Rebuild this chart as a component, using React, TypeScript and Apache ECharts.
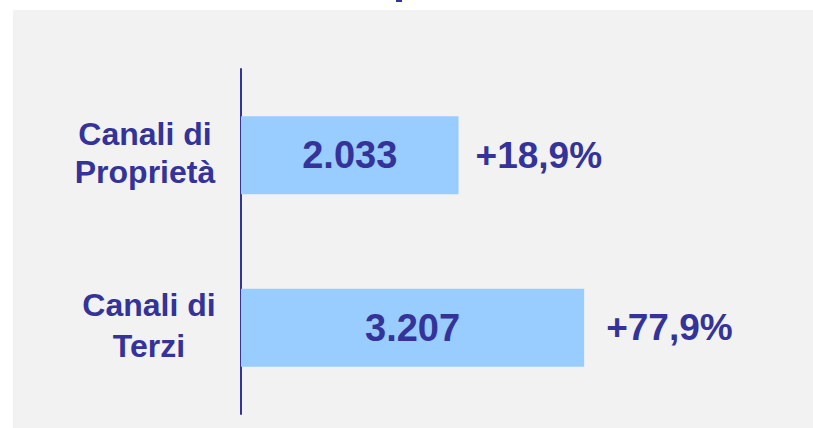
import React, { useEffect, useRef } from "react";
import * as echarts from "echarts";

const categories: string[] = ["Canali di\nProprietà", "Canali di\nTerzi"];
const values: number[] = [2033, 3207];
const growthLabels: string[] = ["+18,9%", "+77,9%"];
const growthDistances: number[] = [17, 22];

const NAVY = "#333399";
const BAR = "#99CCFF";
const PANEL = "#F2F2F2";
const FONT = '"Liberation Sans", Arial, sans-serif';

function formatIt(v: number): string {
  const s = Math.round(v).toString();
  return s.replace(/\B(?=(\d{3})+(?!\d))/g, ".");
}

export default function App() {
  const ref = useRef<HTMLDivElement>(null);
  useEffect(() => {
    if (!ref.current) return;
    const chart = echarts.init(ref.current, undefined, { renderer: "svg" });
    chart.setOption({
      animation: false,
      backgroundColor: "#FFFFFF",
      textStyle: { fontFamily: FONT },
      graphic: [
        {
          type: "rect",
          z: -10,
          silent: true,
          shape: { x: 13, y: 10, width: 800, height: 418 },
          style: { fill: PANEL },
        },
        {
          type: "rect",
          z: -10,
          silent: true,
          shape: { x: 396, y: 0, width: 6, height: 2 },
          style: { fill: NAVY },
        },
      ],
      grid: { left: 241, top: 69, width: 535, height: 345 },
      xAxis: {
        type: "value",
        min: 0,
        max: 5000,
        show: false,
      },
      yAxis: {
        type: "category",
        inverse: true,
        data: categories,
        axisLine: { show: true, lineStyle: { color: NAVY, width: 2 } },
        axisTick: { show: false },
        splitLine: { show: false },
        axisLabel: {
          margin: 96,
          align: "center",
          verticalAlign: "middle",
          fontSize: 32,
          fontWeight: "bold",
          fontFamily: FONT,
          color: NAVY,
          formatter: (value: string, idx: number) =>
            idx === 1 ? `{t|${value}}` : `{p|${value}}`,
          rich: {
            p: {
              fontSize: 32,
              fontWeight: "bold",
              fontFamily: FONT,
              color: NAVY,
              lineHeight: 38,
              padding: [0, 0, 5, 0],
            },
            t: {
              fontSize: 32,
              fontWeight: "bold",
              fontFamily: FONT,
              color: NAVY,
              lineHeight: 41,
              padding: [0, 0, 4, 8],
            },
          },
        },
      },
      series: [
        {
          type: "bar",
          data: values,
          barWidth: 78,
          itemStyle: { color: BAR },
          z: 1,
          label: {
            show: true,
            position: "inside",
            fontSize: 38,
            fontWeight: "bold",
            fontFamily: FONT,
            color: NAVY,
            formatter: (p: any) => formatIt(p.value),
          },
        },
        {
          type: "bar",
          data: values.map((v, i) => ({
            value: v,
            label: { distance: growthDistances[i] },
          })),
          barWidth: 78,
          barGap: "-100%",
          itemStyle: { color: "transparent" },
          z: 2,
          silent: true,
          label: {
            show: true,
            position: "right",
            fontSize: 37,
            fontWeight: "bold",
            fontFamily: FONT,
            color: NAVY,
            formatter: (p: any) => growthLabels[p.dataIndex],
          },
        },
      ],
    });
    return () => chart.dispose();
  }, []);
  return (
    <div
      ref={ref}
      style={{ position: "fixed", left: 0, top: 0, width: 813, height: 428 }}
    />
  );
}
